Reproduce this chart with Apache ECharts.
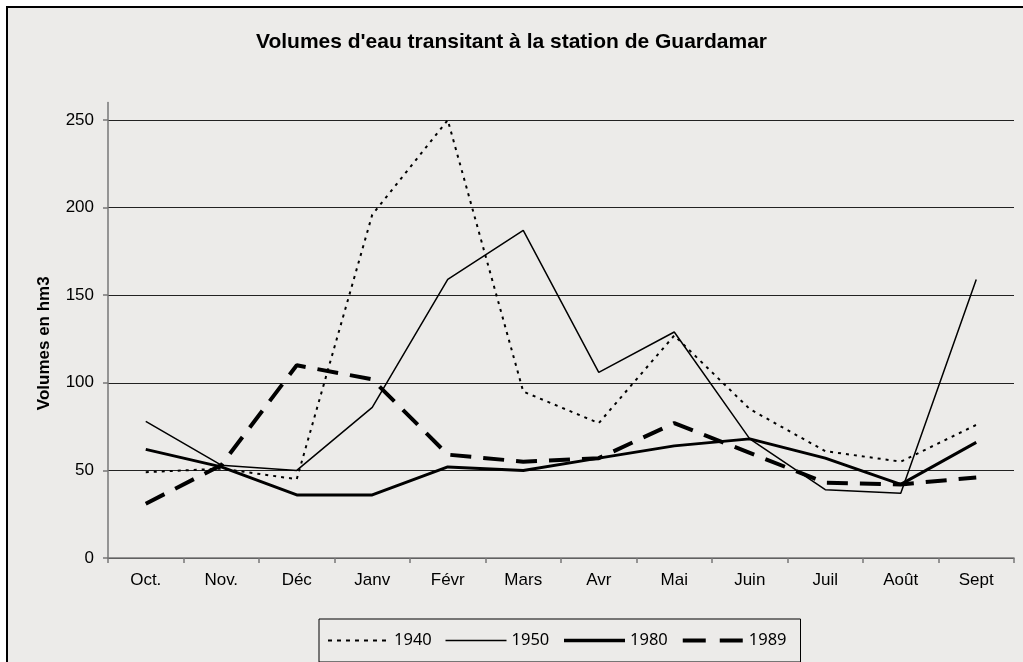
<!DOCTYPE html>
<html>
<head>
<meta charset="utf-8">
<script src="https://cdn.jsdelivr.net/npm/echarts@6/dist/echarts.min.js"></script>
<style>
  html, body { margin: 0; padding: 0; background: #ffffff; }
  #frame { position: absolute; left: 6px; top: 6px; width: 1030px; height: 670px;
           background: #ecebe9; border-left: 2px solid #000; border-top: 2px solid #000; }
  #chart { position: absolute; left: 0; top: 0; width: 1023px; height: 662px; }
</style>
</head>
<body>
<div id="frame"></div>
<div id="chart"></div>
<script>
const months = ['Oct.', 'Nov.', 'Déc', 'Janv', 'Févr', 'Mars', 'Avr', 'Mai', 'Juin', 'Juil', 'Août', 'Sept'];
const v1940 = [49, 51, 45, 196, 250, 95, 77, 127, 85, 61, 55, 76];
const v1950 = [78, 53, 50, 86, 159, 187, 106, 129, 68, 39, 37, 159];
const v1980 = [62, 52, 36, 36, 52, 50, 57, 64, 68, 57, 42, 66];
const v1989 = [31, 53, 110, 102, 59, 55, 57, 77, 60, 43, 42, 46];
const yTicks = [0, 50, 100, 150, 200, 250];

const chart = echarts.init(document.getElementById('chart'), null, { renderer: 'canvas' });
const axisFont = { fontFamily: 'Liberation Sans', fontSize: 17, color: '#000' };

chart.setOption({
  backgroundColor: 'transparent',
  animation: false,
  title: {
    text: "Volumes d'eau transitant à la station de Guardamar",
    left: 'center',
    top: 27,
    textStyle: { fontFamily: 'Liberation Sans', fontWeight: 'bold', fontSize: 21, color: '#000' }
  },
  grid: { left: 108, right: 9, top: 102.5, bottom: 104, containLabel: false },
  legend: {
    left: 319, top: 619,
    orient: 'horizontal',
    padding: [13, 14, 13, 8],
    borderColor: '#000', borderWidth: 1,
    itemWidth: 61, itemHeight: 14, itemGap: 13,
    itemStyle: { color: 'transparent', borderColor: 'transparent', borderWidth: 0 },
    textStyle: { fontFamily: 'Noto Sans', fontSize: 16.5, color: '#000' },
    data: [
      { name: '1940', lineStyle: { color: '#000', width: 2, type: [4, 5] } },
      { name: '1950', lineStyle: { color: '#000', width: 1.5, type: 'solid' } },
      { name: '1980', lineStyle: { color: '#000', width: 3.5, type: 'solid' } },
      { name: '1989', lineStyle: { color: '#000', width: 4, type: [23, 14] } }
    ]
  },
  xAxis: {
    type: 'category',
    data: months,
    boundaryGap: true,
    axisLine: { lineStyle: { color: '#777', width: 1.5 } },
    axisTick: { show: true, length: 5, lineStyle: { color: '#777', width: 1.5 } },
    axisLabel: Object.assign({ margin: 14 }, axisFont),
    splitLine: { show: false }
  },
  yAxis: {
    type: 'value',
    min: 0, max: 260, interval: 50,
    name: 'Volumes en hm3',
    nameLocation: 'middle',
    nameGap: 55,
    nameTextStyle: { fontFamily: 'Liberation Sans', fontWeight: 'bold', fontSize: 17, color: '#000', padding: [0, 26, 0, 0] },
    axisLine: { show: true, lineStyle: { color: '#777', width: 1.5 } },
    axisTick: { show: true, length: 5, customValues: yTicks, lineStyle: { color: '#777', width: 1.5 } },
    axisLabel: Object.assign({ margin: 14, customValues: yTicks }, axisFont),
    splitLine: { show: true, lineStyle: { color: ['#222', '#222', '#222', '#222', '#222', '#222', 'transparent'], width: 1 } }
  },
  series: [
    { name: '1940', type: 'line', data: v1940, symbol: 'none',
      lineStyle: { color: '#000', width: 2, type: [3, 5] }, itemStyle: { color: '#000' } },
    { name: '1950', type: 'line', data: v1950, symbol: 'none',
      lineStyle: { color: '#000', width: 1.5, type: 'solid' }, itemStyle: { color: '#000' } },
    { name: '1980', type: 'line', data: v1980, symbol: 'none',
      lineStyle: { color: '#000', width: 3, type: 'solid' }, itemStyle: { color: '#000' } },
    { name: '1989', type: 'line', data: v1989, symbol: 'none',
      lineStyle: { color: '#000', width: 4, type: [21, 12] }, itemStyle: { color: '#000' } }
  ]
});
</script>
</body>
</html>
